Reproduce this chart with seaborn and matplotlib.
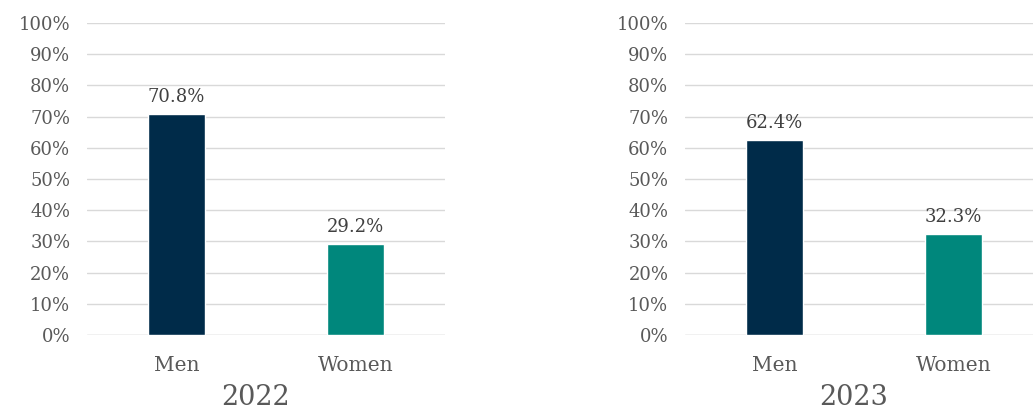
import matplotlib
matplotlib.use("Agg")
import matplotlib.pyplot as plt
import seaborn as sns
import pandas as pd

# Share of men and women by year
categories = ["Men", "Women"]
years = ["2022", "2023"]
share_2022 = [70.8, 29.2]
share_2023 = [62.4, 32.3]
bar_colors = ["#002B49", "#00877C"]
y_ticks = list(range(0, 101, 10))
y_tick_labels = [f"{t}%" for t in y_ticks]

sns.set_theme(style="white")
plt.rcParams["font.family"] = ["DejaVu Serif", "DejaVu Sans"]

fig = plt.figure(figsize=(10.33, 4.13), dpi=100)
ax_left = fig.add_axes([0.0842, 0.1889, 0.3466, 0.7554])
ax_right = fig.add_axes([0.6631, 0.1889, 0.3466, 0.7554])

for ax, year, values in zip([ax_left, ax_right], years, [share_2022, share_2023]):
    df = pd.DataFrame({"category": categories, "share": values})
    sns.barplot(data=df, x="category", y="share", hue="category",
                palette=bar_colors, width=0.32, legend=False, ax=ax,
                saturation=1)
    ax.set_ylim(0, 100)
    ax.set_xlim(-0.5, 1.5)
    ax.set_yticks(y_ticks)
    ax.set_yticklabels(y_tick_labels)
    ax.yaxis.grid(True, color="#d9d9d9", linewidth=1)
    ax.set_axisbelow(True)
    for s in ax.spines.values():
        s.set_visible(False)
    ax.axhline(0, color="#d9d9d9", linewidth=1, zorder=0.5)
    ax.tick_params(axis="y", length=0, pad=12, labelsize=13, labelcolor="#595959")
    ax.tick_params(axis="x", length=0, pad=15, labelsize=14.5, labelcolor="#595959")
    ax.set_ylabel("")
    ax.set_xlabel(year, fontsize=19.5, color="#595959")
    ax.xaxis.label.set_va("center")
    ax.xaxis.set_label_coords(0.47, -0.199)
    for container in ax.containers:
        ax.bar_label(container, fmt="%.1f%%", padding=6, fontsize=13,
                     color="#404040")

fig.savefig("out.png", dpi=100)
